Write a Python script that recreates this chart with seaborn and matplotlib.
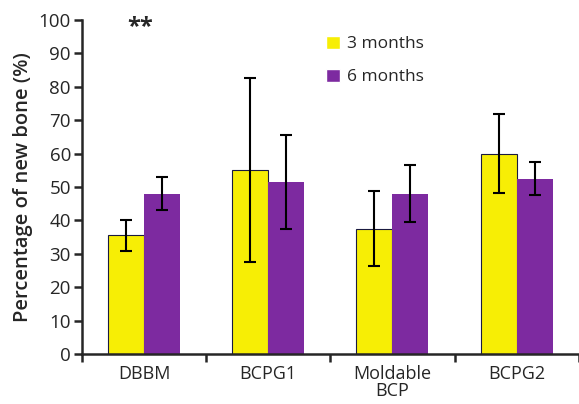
import numpy as np
import pandas as pd
import matplotlib
matplotlib.use("Agg")
import matplotlib.pyplot as plt
import seaborn as sns

##values
groups = ["DBBM", "BCPG1", "Moldable\nBCP", "BCPG2"]
periods = ["3 months", "6 months"]
mean_3m = [35.5, 55.0, 37.5, 60.0]
err_3m = [4.7, 27.5, 11.3, 11.8]
mean_6m = [48.0, 51.5, 48.0, 52.5]
err_6m = [5.0, 14.0, 8.5, 5.0]
colors = ["#f7ee05", "#7d2aa0"]

df = pd.DataFrame({
    "group": groups * 2,
    "period": [periods[0]] * 4 + [periods[1]] * 4,
    "value": mean_3m + mean_6m,
})
errs = [err_3m, err_6m]

sns.set_style("ticks")
plt.rcParams["font.family"] = ["Open Sans", "DejaVu Sans"]

fig = plt.figure(figsize=(5.79, 4.04), dpi=100)
ax = fig.add_axes([0.1416, 0.1238, 0.858, 0.8267])

sns.barplot(data=df, x="group", y="value", hue="period", palette=colors,
            width=0.58, saturation=1, errorbar=None, ax=ax)

##error bars + edges per series
bar_conts = list(ax.containers)
for i, cont in enumerate(bar_conts):
    for j, bar in enumerate(cont):
        if i == 0:
            bar.set_edgecolor("#1a1a40")
            bar.set_linewidth(0.8)
        else:
            bar.set_edgecolor("none")
        xc = bar.get_x() + bar.get_width() / 2
        ax.errorbar(xc, bar.get_height(), yerr=errs[i][j], color="black",
                    capsize=4, capthick=1.5, elinewidth=1.5, fmt="none")

ax.set_xlim(-0.5, 3.5)
ax.set_ylim(0, 100)
ax.set_yticks(np.arange(0, 101, 10))
ax.set_xticks(range(len(groups)))
ax.set_xticklabels(groups, fontsize=13, linespacing=0.95)
ax.set_xticks([-0.5, 0.5, 1.5, 2.5, 3.5], minor=True)
ax.tick_params(axis="x", which="major", length=0, pad=8)
ax.tick_params(axis="x", which="minor", length=6, width=1.8, direction="out")
ax.tick_params(axis="y", length=6, width=1.8, labelsize=13.5, pad=2)
ax.set_xlabel("")
ax.set_ylabel("Percentage of new bone (%)", fontsize=14.5, fontweight="semibold", labelpad=4)

sns.despine(ax=ax)
ax.spines["left"].set_linewidth(1.8)
ax.spines["bottom"].set_linewidth(1.8)

ax.text(-0.03, 98, "**", ha="center", va="center", fontsize=17, fontweight="bold")

ax.legend(loc="upper left", bbox_to_anchor=(0.46, 1.0), frameon=False, fontsize=12.5,
          handlelength=0.8, handleheight=0.8, handletextpad=0.4, labelspacing=0.95)

fig.savefig("out.png", dpi=100)
